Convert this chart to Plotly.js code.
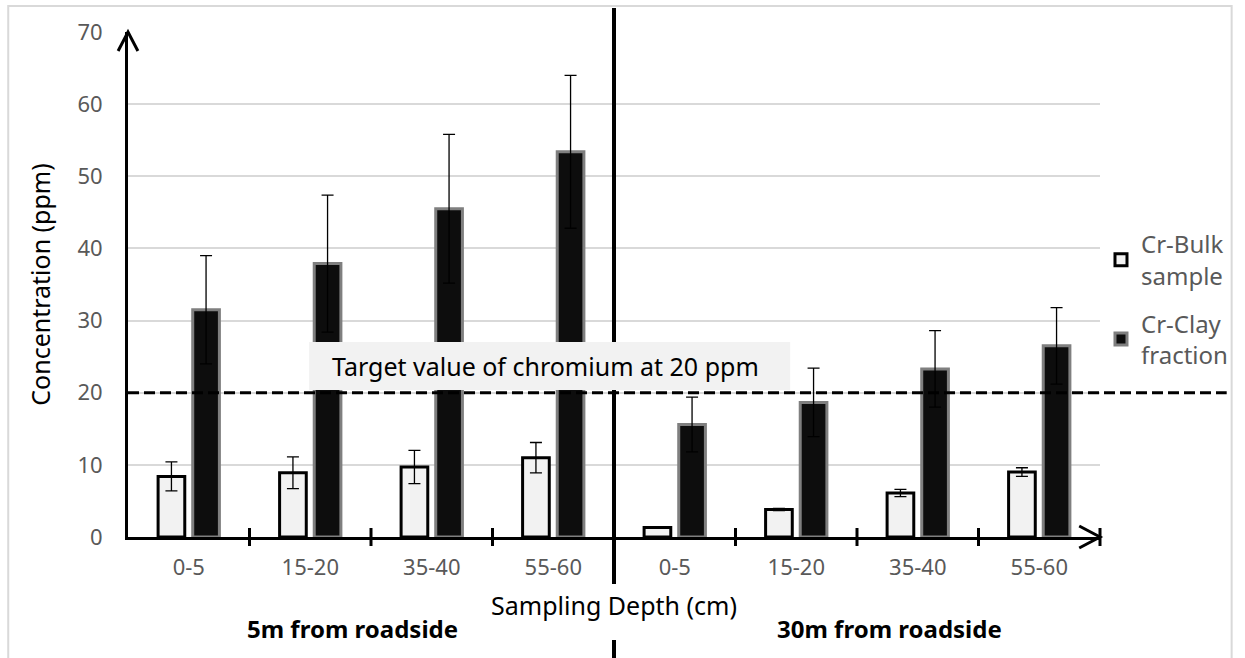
<!DOCTYPE html>
<html>
<head>
<meta charset="utf-8">
<script src="https://cdn.plot.ly/plotly-3.0.1.min.js"></script>
<style>html,body{margin:0;padding:0;background:#fff;}#chart{width:1245px;height:658px;}</style>
</head>
<body>
<div id="chart"></div>
<script>
// ---- data ----
const depths = ["0-5", "15-20", "35-40", "55-60"];
const sites = ["5m from roadside", "30m from roadside"];
const seriesNames = ["Cr-Bulk<br>sample", "Cr-Clay<br>fraction"];
const bulk5 = [8.4, 8.9, 9.7, 11.0];
const bulk5Err = [2.0, 2.2, 2.3, 2.1];
const clay5 = [31.5, 37.9, 45.5, 53.4];
const clay5Err = [7.5, 9.5, 10.3, 10.6];
const bulk30 = [1.3, 3.8, 6.1, 9.0];
const bulk30Err = [0.1, 0.15, 0.5, 0.6];
const clay30 = [15.6, 18.65, 23.3, 26.5];
const clay30Err = [3.8, 4.75, 5.3, 5.3];
const targetValue = 20;
const targetLabel = "Target value of chromium at 20 ppm";
const yTitle = "Concentration (ppm)";
const xTitle = "Sampling Depth (cm)";

// ---- build ----
const nD = depths.length;
const xs = [];
const tickText = [];
sites.forEach((s, si) => depths.forEach((d, di) => { xs.push(si * nD + di); tickText.push(d); }));

const FONT = "Noto Sans, Open Sans, sans-serif";

const traces = [
  {
    type: "bar", name: seriesNames[0], legendgroup: "bulk", x: xs, y: bulk5.concat(bulk30),
    marker: {color: "#f2f2f2", line: {color: "#000000", width: 3}},
    error_y: {type: "data", array: bulk5Err.concat(bulk30Err), visible: true, color: "#000", thickness: 1.3, width: 6},
    hoverinfo: "skip"
  },
  {
    type: "bar", name: seriesNames[1], legendgroup: "clay", x: xs, y: clay5.concat(clay30),
    marker: {color: "#0d0d0d", line: {color: "#7f7f7f", width: 3}},
    error_y: {type: "data", array: clay5Err.concat(clay30Err), visible: true, color: "#000", thickness: 1.3, width: 6},
    hoverinfo: "skip"
  }
];

// pixel helpers for decorations (plot area: x 128..1110, y 537..32)
const L = 128, R = 1110, T = 32, B = 537;
const px = v => (v - L) / (R - L);
const py = v => (B - v) / (B - T);

const shapes = [];
// outer frame
shapes.push({type: "rect", xref: "paper", yref: "paper", x0: px(7), x1: px(1243), y0: py(6), y1: py(700),
  line: {color: "#d9d9d9", width: 2}, fillcolor: "rgba(0,0,0,0)", layer: "below"});
// boundary ticks between categories
for (let i = 0; i < xs.length - 1; i++) {
  if (i === nD - 1) continue;
  shapes.push({type: "line", xref: "x", yref: "paper", x0: i + 0.5, x1: i + 0.5, y0: py(528), y1: py(546),
    line: {color: "#000", width: 3}});
}
// divider between sites
shapes.push({type: "line", xref: "x", yref: "paper", x0: nD - 0.5, x1: nD - 0.5, y0: py(8), y1: py(584),
  line: {color: "#000", width: 4}, layer: "above"});
shapes.push({type: "line", xref: "x", yref: "paper", x0: nD - 0.5, x1: nD - 0.5, y0: py(640), y1: py(700),
  line: {color: "#000", width: 4}, layer: "above"});
// target label background
shapes.push({type: "rect", xref: "paper", yref: "paper", x0: px(311), x1: px(797), y0: py(390), y1: py(342),
  fillcolor: "#f2f2f2", line: {width: 0}, layer: "above"});
// target dashed line
shapes.push({type: "line", xref: "paper", yref: "y", x0: 0, x1: px(1238), y0: targetValue, y1: targetValue,
  line: {color: "#000", width: 3, dash: "11px,5px"}, layer: "above"});
// y arrow head
shapes.push({type: "path", xref: "paper", yref: "paper",
  path: `M${px(118)},${py(51)} L${px(128)},${py(32)} L${px(138)},${py(51)}`,
  line: {color: "#000", width: 3}, fillcolor: "rgba(0,0,0,0)"});
// x arrow head + end bar
shapes.push({type: "path", xref: "paper", yref: "paper",
  path: `M${px(1089)},${py(526)} L${px(1110)},${py(537)} L${px(1089)},${py(548)}`,
  line: {color: "#000", width: 3}, fillcolor: "rgba(0,0,0,0)"});
shapes.push({type: "line", xref: "paper", yref: "paper", x0: px(1110), x1: px(1110), y0: py(528), y1: py(546),
  line: {color: "#000", width: 3}});

const annotations = [
  {xref: "paper", yref: "paper", x: px(332), y: py(366), xanchor: "left", yanchor: "middle",
   text: targetLabel, showarrow: false, font: {family: FONT, size: 25, color: "#000"}},
  {xref: "paper", yref: "paper", x: px(355), y: py(628), xanchor: "center", yanchor: "middle",
   text: "<b>" + sites[0] + "</b>", showarrow: false, font: {family: FONT, size: 24, color: "#000"}},
  {xref: "paper", yref: "paper", x: px(897), y: py(628), xanchor: "center", yanchor: "middle",
   text: "<b>" + sites[1] + "</b>", showarrow: false, font: {family: FONT, size: 24, color: "#000"}}
];

const layout = {
  width: 1245, height: 658,
  margin: {l: L, r: 1245 - R, t: T, b: 658 - B, pad: 0},
  paper_bgcolor: "#fff", plot_bgcolor: "#fff",
  font: {family: FONT, color: "#595959"},
  barmode: "group", bargap: 0.43, bargroupgap: 0.23,
  showlegend: true,
  legend: {x: px(1111), y: py(222), xanchor: "left", yanchor: "top", tracegroupgap: 14,
    font: {family: FONT, size: 24, color: "#595959"}, bgcolor: "rgba(0,0,0,0)", itemwidth: 30},
  xaxis: {
    range: [-0.5, xs.length - 0.5], tickvals: xs, ticktext: tickText,
    showgrid: false, zeroline: false, showline: true, linecolor: "#000", linewidth: 3,
    ticks: "", ticklabelstandoff: 9, tickfont: {family: FONT, size: 22, color: "#595959"},
    title: {text: xTitle, font: {family: FONT, size: 25, color: "#000"}, standoff: 18},
    fixedrange: true
  },
  yaxis: {
    range: [0, 70], dtick: 10, tick0: 0,
    showgrid: true, gridcolor: "#d9d9d9", gridwidth: 2, zeroline: false,
    showline: true, linecolor: "#000", linewidth: 3,
    ticks: "", ticklabelstandoff: 18, tickfont: {family: FONT, size: 22, color: "#595959"},
    title: {text: yTitle, font: {family: FONT, size: 25, color: "#000"}, standoff: 20},
    fixedrange: true
  },
  shapes: shapes,
  annotations: annotations
};

Plotly.newPlot("chart", traces, layout, {staticPlot: true, displayModeBar: false});
</script>
</body>
</html>
